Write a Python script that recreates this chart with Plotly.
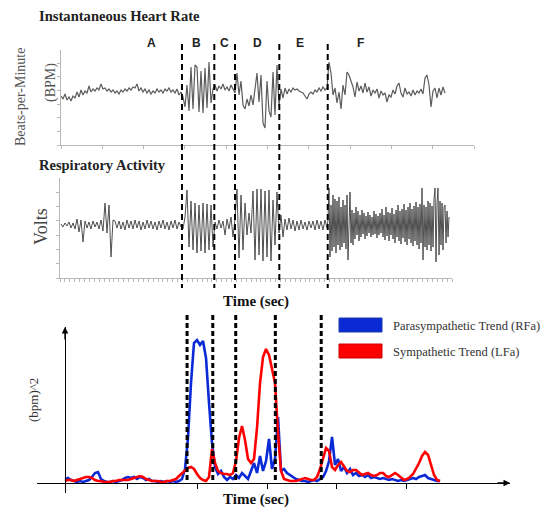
import plotly.graph_objects as go

W, H = 544, 509

# ---------------- data ----------------
# Instantaneous heart rate (bpm), uniformly sampled along the time axis
hr_step = 4.8426
hr_bpm = [
    # A
    89, 86, 91, 85, 88, 84, 89, 87, 93, 88, 95, 90, 94, 92, 99, 93, 96, 94, 97, 95,
    101, 96, 97, 94, 96, 93, 95, 92, 94, 91, 95, 93, 96, 94, 97, 95, 98, 97, 101, 94,
    97, 93, 96, 92, 95, 91, 94, 92, 96, 93, 95, 92, 96, 94, 97, 93, 95, 92, 96, 90, 93,
    # B
    88, 78, 100, 74, 118, 76, 120, 118, 73, 114, 72, 117, 77, 123, 82, 96,
    # C
    100, 94, 99, 96, 101, 95, 98, 94, 100, 96, 92,
    # D
    112, 90, 104, 80, 76, 86, 79, 90, 80, 97, 112, 83, 110, 62, 57, 104, 74, 68, 113, 70, 120, 80,
    # E
    96, 87, 97, 91, 96, 93, 97, 95, 96, 94, 93, 92, 89, 86, 91, 93, 91, 95, 93, 97, 94, 98, 95, 97,
    # F
    123, 112, 90, 97, 82, 93, 76, 100, 90, 113, 110, 104, 98, 88, 103, 94, 99, 92, 102, 93,
    98, 89, 95, 92, 96, 87, 94, 90, 92, 83, 90, 88, 95, 91, 99, 102, 92, 88, 97, 91,
    93, 89, 95, 90, 94, 92, 96, 91, 107, 110, 100, 78, 94, 97, 87, 97, 90, 98, 92,
]

# Respiratory activity (mV): segments A-E sampled coarsely, segment F finely
resp_step_ae = 4.8426
resp_mv_ae = [
    # A
    1, -2, 2, -1, 3, -3, 2, -4, 6, -7, 5, -17, 4, -3, 3, -4, 4, -2, 3, -4,
    5, -6, 22, -8, 20, -32, 5, 4, -3, 4, -4, 3, -5, 5, -3, 4, -4, 5, -3, 4,
    -5, 3, -4, 5, -3, 4, -4, 3, -5, 4, -3, 5, -4, 3, -5, 4, -3, 5, -4, 3, -2,
    # B
    -4, 8, 35, -22, 24, -25, 22, -28, 20, -26, 22, -28, 21, -25, 20, -22,
    # C
    3, -4, 5, -3, 4, -10, 6, -4, 8, -12, 6,
    # D
    36, -33, 30, -25, 22, -10, 12, -8, 34, -35, 36, -30, 36, -36, 34, -32, 35, -36, 25, -20, 33, -8,
    # E
    10, -12, 6, -5, 7, -4, 5, -6, 4, -5, 5, -4, 3, -5, 4, -3, 4, -5, 5, -4, 4, -5, 5, -3,
]
resp_t0_f = 646.5
resp_step_f = 2.4213
resp_mv_f = [
    5, 37, -32, 20, -26, 30, -22, 26, -28, 24, -20, 28, -25, 18, -22, 25, -18, 20, -24, 30,
    -35, 16, 33, -18, 15, -20, 12, -14, 18, -10, 14, -16, 10, -12, 15, -9, 12, -14, 9, -11,
    13, -8, 10, -12, 8, -10, 14, -9, 11, -13, 9, -10, 12, -8, 16, -12, 10, -15, 18, -11,
    13, -16, 12, -10, 17, -14, 11, -18, 15, -12, 20, -16, 14, -19, 16, -13, 21, -17, 15, -20,
    18, -14, 22, -18, 16, -21, 19, -16, 23, -20, 18, -24, 21, -18, 37, -35, 20, -22, 18, -25,
    24, -20, 22, -26, 19, -22, 26, 37, -37, 22, 37, -30, 24, -20, 22, -25, 18, 20, -18, 14,
    -12, 8,
]

# Autonomic trends ((bpm)^2), uniformly sampled on the bottom time axis
trend_t0 = 9.35
trend_step = 4.317
para_rfa = [
    4, 5, 3, 2, 1, 2, 1, 2, 3, 6, 10, 11, 4, 2, 1, 1, 2, 1, 2, 3,
    5, 6, 5, 6, 4, 6, 5, 3, 4, 2, 2, 1, 2, 1, 2, 1, 2, 1, 2, 4,
    14, 45, 100, 140, 143, 138, 142, 125, 80, 40, 16, 9, 12, 6, 3, 6, 4, 8, 5, 10,
    7, 4, 12, 20, 10, 27, 12, 22, 44, 14, 24, 66, 12, 14, 10, 8, 6, 4, 3, 2,
    2, 1, 2, 3, 2, 4, 6, 12, 22, 46, 18, 24, 12, 16, 10, 14, 8, 10, 7, 8,
    6, 8, 5, 6, 5, 4, 5, 4, 3, 4, 3, 2, 3, 2, 3, 4, 5, 4, 6, 7,
    8, 5, 4, 3, 2, 2,
]
symp_lfa = [
    2, 3, 3, 2, 3, 4, 5, 6, 6, 5, 3, 2, 2, 1, 1, 1, 2, 2, 3, 3,
    3, 3, 4, 5, 6, 7, 6, 4, 3, 2, 2, 2, 1, 1, 2, 2, 3, 4, 7, 10,
    13, 15, 16, 14, 9, 5, 3, 2, 6, 34, 20, 12, 10, 9, 9, 8, 10, 22, 45, 57,
    43, 24, 20, 24, 55, 100, 126, 134, 128, 114, 100, 50, 12, 4, 3, 2, 2, 2, 3, 4,
    5, 4, 3, 3, 6, 14, 26, 35, 32, 16, 13, 18, 21, 16, 12, 11, 13, 13, 10, 8,
    9, 10, 8, 7, 8, 10, 10, 7, 6, 8, 10, 8, 5, 3, 4, 6, 9, 14, 20, 27,
    31, 28, 18, 8, 3, 2,
]

segment_bounds_top = [292.9, 371.2, 421.3, 528.6, 645.8]
segment_labels = ["A", "B", "C", "D", "E", "F"]
segment_label_x = [218, 329, 395, 475, 579, 726]
segment_bounds_bottom = [185, 222, 255, 312, 378]
trend_ticks = [100, 200, 300, 400, 500]

# ---------------- helpers ----------------
def px(x):
    return x / W


def py(y):
    return 1 - y / H


hr_t = [i * hr_step for i in range(len(hr_bpm))]
resp_t = [i * resp_step_ae for i in range(len(resp_mv_ae))] + \
         [resp_t0_f + i * resp_step_f for i in range(len(resp_mv_f))]
resp_mv = resp_mv_ae + resp_mv_f
trend_t = [trend_t0 + i * trend_step for i in range(len(para_rfa))]

fig = go.Figure()
fig.add_trace(go.Scatter(x=hr_t, y=hr_bpm, mode="lines", xaxis="x", yaxis="y",
                         line=dict(color="#5c5c5c", width=1.2), showlegend=False))
fig.add_trace(go.Scatter(x=resp_t, y=resp_mv, mode="lines", xaxis="x2", yaxis="y2",
                         line=dict(color="#4f4f4f", width=1.0), showlegend=False))
fig.add_trace(go.Scatter(x=trend_t, y=para_rfa, mode="lines", xaxis="x3", yaxis="y3",
                         line=dict(color="#0a2ad6", width=2.6),
                         name="Parasympathetic Trend (RFa)", showlegend=False))
fig.add_trace(go.Scatter(x=trend_t, y=symp_lfa, mode="lines", xaxis="x3", yaxis="y3",
                         line=dict(color="#ff0000", width=2.6),
                         name="Sympathetic Trend (LFa)", showlegend=False))

axis_gray = "#b8b8b8"
common = dict(showgrid=False, zeroline=False, showticklabels=False)

fig.update_layout(
    width=W, height=H, margin=dict(l=0, r=0, t=0, b=0),
    paper_bgcolor="white", plot_bgcolor="rgba(0,0,0,0)",
    xaxis=dict(domain=[px(61), px(474)], range=[0, 1000], anchor="y",
               showline=True, linecolor=axis_gray, linewidth=1,
               ticks="outside", ticklen=3, tickcolor=axis_gray, tick0=0, dtick=100, **common),
    yaxis=dict(domain=[py(145), py(49.5)], range=[40, 135.5], anchor="x",
               showline=True, linecolor=axis_gray, linewidth=1,
               ticks="outside", ticklen=3, tickcolor=axis_gray, tick0=40, dtick=13.65, **common),
    xaxis2=dict(domain=[px(60), px(452)], range=[-2.42, 946.7], anchor="y2",
                showline=True, linecolor=axis_gray, linewidth=1,
                ticks="outside", ticklen=3, tickcolor=axis_gray, tick0=-2.42, dtick=11.864, **common),
    yaxis2=dict(domain=[py(278), py(178)], range=[-53, 47], anchor="x2",
                showline=True, linecolor=axis_gray, linewidth=1,
                ticks="outside", ticklen=3, tickcolor=axis_gray, tick0=-53, dtick=14.29, **common),
    xaxis3=dict(domain=[px(37), px(510)], range=[-30.9, 649.6], anchor="free", position=py(483),
                showline=True, linecolor="black", linewidth=1.3,
                ticks="outside", ticklen=5, tickcolor="black", tickwidth=1,
                tickvals=trend_ticks, **common),
    yaxis3=dict(domain=[py(493), py(327)], range=[-10, 156], anchor="free", position=px(65),
                showline=True, linecolor="black", linewidth=1.3, ticks="", **common),
)

shapes = []
for b in segment_bounds_top:
    shapes.append(dict(type="line", xref="x", yref="paper", x0=b, x1=b, y0=py(44), y1=py(288),
                       line=dict(color="black", width=2, dash="6px,4px")))
for b in segment_bounds_bottom:
    shapes.append(dict(type="line", xref="x3", yref="paper", x0=b, x1=b, y0=py(315), y1=py(482),
                       line=dict(color="black", width=3, dash="5px,3px")))
# legend swatches
shapes.append(dict(type="rect", xref="paper", yref="paper", x0=px(339), x1=px(382), y0=py(332), y1=py(318),
                   fillcolor="#0a2ad6", line=dict(color="#1a3aa8", width=1)))
shapes.append(dict(type="rect", xref="paper", yref="paper", x0=px(339), x1=px(382), y0=py(358), y1=py(344),
                   fillcolor="#ff0000", line=dict(color="#c80000", width=1)))
fig.update_layout(shapes=shapes)

serif = "Liberation Serif"
ann = []


def txt(x, y, s, size, color="#222", family=serif, angle=0, xanchor="center", xref="paper"):
    ann.append(dict(x=x, y=y, xref=xref, yref="paper", text=s, showarrow=False,
                    font=dict(family=family, size=size, color=color), textangle=angle,
                    xanchor=xanchor, yanchor="middle"))


txt(px(37), py(16), "<b>Instantaneous Heart Rate</b>", 14.6, xanchor="left")
txt(px(37), py(165), "<b>Respiratory Activity</b>", 14.5, xanchor="left")
txt(px(20), py(97), "Beats-per-Minute", 14, color="#555", angle=-90)
txt(px(51), py(83), "(BPM)", 14, color="#555", angle=-90)
txt(px(41), py(227), "Volts", 18, color="#444", angle=-90)
txt(px(256), py(301), "<b>Time (sec)</b>", 15, color="#111")
txt(px(256), py(499), "<b>Time (sec)</b>", 15, color="#111")
txt(px(33), py(400), "(bpm)^2", 13, color="#333", angle=-90)
txt(px(391), py(326), "Parasympathetic Trend (RFa)", 12.5, color="#333", xanchor="left")
txt(px(391), py(352), "Sympathetic Trend (LFa)", 12.5, color="#333", xanchor="left")
for lab, lx in zip(segment_labels, segment_label_x):
    txt(lx, py(43), "<b>" + lab + "</b>", 12, color="#222", family="Liberation Sans", xref="x")

# axis arrowheads for the trend panel
ann.append(dict(x=649.6, y=0, xref="x3", yref="y3", ax=-14, ay=0, text="", showarrow=True,
                arrowhead=2, arrowsize=1, arrowwidth=1.3, arrowcolor="black", standoff=0))
ann.append(dict(x=trend_t0, y=156, xref="x3", yref="y3", ax=0, ay=14, text="", showarrow=True,
                arrowhead=2, arrowsize=1, arrowwidth=1.3, arrowcolor="black", standoff=0))
fig.update_layout(annotations=ann)

fig.write_html("out.html")
